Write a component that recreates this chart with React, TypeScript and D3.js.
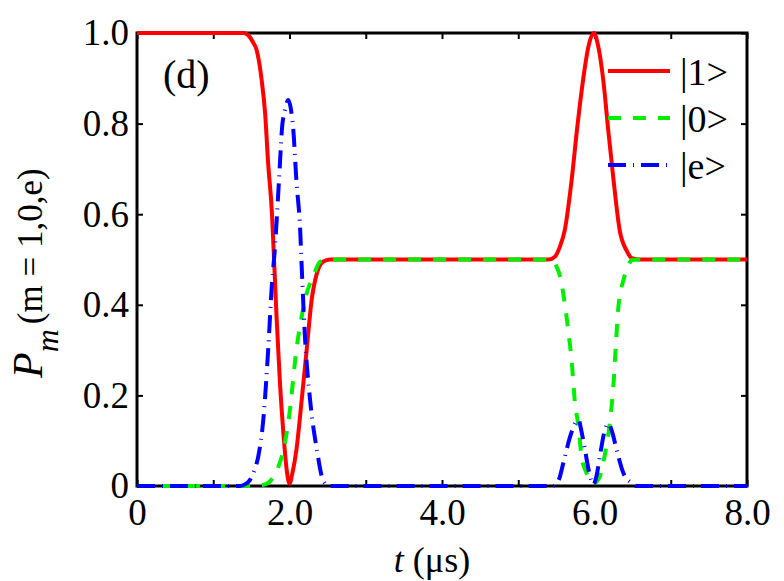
import React, { useEffect, useRef } from "react";
import * as d3 from "d3";

// time axis (µs) and populations for each level
const tOne = [0, 1.4, 1.46, 1.52, 1.57, 1.635, 1.68, 1.72, 1.77, 1.8, 1.83, 1.875, 1.92, 1.96, 2.0, 2.04, 2.09, 2.16, 2.225, 2.29, 2.36, 2.44, 2.53, 3.0, 4.0, 5.0, 5.4, 5.48, 5.55, 5.61, 5.7, 5.77, 5.85, 5.92, 5.99, 6.05, 6.115, 6.18, 6.25, 6.33, 6.42, 6.49, 6.6, 8.0];
const pOne = [1, 1, 0.995, 0.98, 0.962, 0.896, 0.823, 0.712, 0.602, 0.49, 0.374, 0.227, 0.116, 0.04, 0.005, 0.03, 0.079, 0.19, 0.3, 0.41, 0.47, 0.495, 0.5, 0.5, 0.5, 0.5, 0.5, 0.506, 0.53, 0.565, 0.675, 0.786, 0.896, 0.97, 1.0, 0.97, 0.896, 0.786, 0.675, 0.565, 0.52, 0.503, 0.5, 0.5];

const tZero = [0, 1.55, 1.7, 1.79, 1.86, 1.92, 2.0, 2.09, 2.16, 2.225, 2.31, 2.4, 2.5, 5.0, 5.44, 5.5, 5.55, 5.61, 5.66, 5.7, 5.74, 5.79, 5.83, 5.88, 5.92, 5.985, 6.03, 6.07, 6.14, 6.2, 6.25, 6.28, 6.31, 6.38, 6.44, 6.49, 6.6, 8.0];
const pZero = [0, 0, 0.005, 0.02, 0.045, 0.079, 0.16, 0.3, 0.374, 0.425, 0.462, 0.495, 0.5, 0.5, 0.499, 0.485, 0.462, 0.403, 0.337, 0.278, 0.19, 0.131, 0.065, 0.035, 0.021, 0.005, 0.01, 0.021, 0.073, 0.138, 0.227, 0.31, 0.389, 0.455, 0.485, 0.499, 0.5, 0.5];

const tE = [0, 1.35, 1.42, 1.48, 1.54, 1.59, 1.66, 1.72, 1.77, 1.81, 1.85, 1.875, 1.9, 1.94, 1.985, 2.02, 2.05, 2.09, 2.14, 2.16, 2.2, 2.27, 2.36, 2.44, 2.52, 5.0, 5.45, 5.53, 5.59, 5.68, 5.75, 5.79, 5.83, 5.875, 5.93, 5.985, 6.03, 6.07, 6.13, 6.18, 6.23, 6.29, 6.38, 6.49, 6.55, 8.0];
const pE = [0, 0, 0.004, 0.013, 0.035, 0.065, 0.153, 0.3, 0.447, 0.528, 0.639, 0.713, 0.786, 0.83, 0.852, 0.83, 0.786, 0.675, 0.565, 0.484, 0.337, 0.19, 0.079, 0.013, 0, 0, 0, 0.013, 0.05, 0.109, 0.14, 0.146, 0.12, 0.08, 0.03, 0.003, 0.025, 0.065, 0.12, 0.138, 0.12, 0.08, 0.028, 0.006, 0, 0];

const xTicks = [0, 1, 2, 3, 4, 5, 6, 7, 8];
const yTicks = [0, 0.2, 0.4, 0.6, 0.8, 1.0];
const legendLabels = ["|1>", "|0>", "|e>"];

const FONT = "'Liberation Serif', 'Times New Roman', serif";

const PopulationChart = () => {
  const ref = useRef<SVGSVGElement>(null);

  useEffect(() => {
    const totalWidth = 784;
    const totalHeight = 581;
    const margin = { top: 33, right: 37, bottom: 95, left: 137 };
    const w = totalWidth - margin.left - margin.right;
    const h = totalHeight - margin.top - margin.bottom;

    const series = [
      { label: legendLabels[0], t: tOne, p: pOne, color: "#ff0000", dash: null },
      { label: legendLabels[1], t: tZero, p: pZero, color: "#00ee00", dash: "13,12" },
      { label: legendLabels[2], t: tE, p: pE, color: "#0000ff", dash: "18,7,1,7" },
    ];

    const svg = d3.select(ref.current);
    svg.selectAll("*").remove();

    const g = svg.append("g").attr("transform", `translate(${margin.left},${margin.top})`);

    const x = d3.scaleLinear().domain([0, 8]).range([0, w]);
    const y = d3.scaleLinear().domain([0, 1]).range([h, 0]);

    const styleAxis = (sel) => {
      sel.select(".domain").remove();
      sel.attr("font-family", null).attr("font-size", null);
      sel.selectAll("text").attr("fill", "#000").style("font-family", FONT).style("font-size", "37px");
      sel.selectAll("line").attr("stroke", "#000").attr("stroke-width", 2);
    };

    const xFmt = (d) => (d === 0 ? "0" : d % 2 === 0 ? d3.format(".1f")(d) : "");
    const yFmt = (d) => (d === 0 ? "0" : d3.format(".1f")(d));

    // ticks point inward on all four sides
    g.append("g")
      .attr("transform", `translate(0,${h})`)
      .call(d3.axisBottom(x).tickValues(xTicks).tickSize(-6).tickPadding(13).tickFormat(xFmt))
      .call(styleAxis);
    g.append("g")
      .call(d3.axisTop(x).tickValues(xTicks).tickSize(-6).tickFormat(() => ""))
      .call(styleAxis);
    g.append("g")
      .call(d3.axisLeft(y).tickValues(yTicks).tickSize(-6).tickPadding(8).tickFormat(yFmt))
      .call(styleAxis);
    g.append("g")
      .attr("transform", `translate(${w},0)`)
      .call(d3.axisRight(y).tickValues(yTicks).tickSize(-6).tickFormat(() => ""))
      .call(styleAxis);

    // frame
    g.append("rect")
      .attr("width", w)
      .attr("height", h)
      .attr("fill", "none")
      .attr("stroke", "#000")
      .attr("stroke-width", 3);

    const line = d3
      .line()
      .x((d) => x(d[0]))
      .y((d) => y(d[1]))
      .curve(d3.curveMonotoneX);

    series.forEach((s) => {
      g.append("path")
        .datum(d3.zip(s.t, s.p))
        .attr("d", line)
        .attr("fill", "none")
        .attr("stroke", s.color)
        .attr("stroke-width", 4)
        .attr("stroke-dasharray", s.dash)
        .attr("stroke-linejoin", "round");
    });

    // panel tag
    g.append("text")
      .attr("x", 26)
      .attr("y", 55)
      .style("font-family", FONT)
      .style("font-size", "40px")
      .text("(d)");

    // legend
    const legend = g.append("g").attr("transform", `translate(${471},${38})`);
    series.forEach((s, i) => {
      const row = legend.append("g").attr("transform", `translate(0,${i * 47})`);
      row.append("line")
        .attr("x1", 0)
        .attr("x2", 62)
        .attr("stroke", s.color)
        .attr("stroke-width", 4)
        .attr("stroke-dasharray", s.dash);
      row.append("text")
        .attr("x", 72)
        .attr("y", 14)
        .style("font-family", FONT)
        .style("font-size", "38px")
        .text(s.label);
    });

    // axis titles
    const xl = svg.append("text")
      .attr("x", 432)
      .attr("y", 572)
      .attr("text-anchor", "middle")
      .style("font-family", FONT)
      .style("font-size", "36px");
    xl.append("tspan").attr("font-style", "italic").text("t");
    xl.append("tspan").text(" (\u03bcs)");

    const yl = svg.append("text")
      .attr("transform", `translate(42,${378}) rotate(-90)`)
      .attr("text-anchor", "start")
      .style("font-family", FONT)
      .style("font-size", "35px");
    yl.append("tspan").attr("font-style", "italic").style("font-size", "42px").text("P");
    yl.append("tspan").attr("font-style", "italic").style("font-size", "32px").attr("dy", 16).text("m");
    yl.append("tspan").attr("dy", -16).attr("dx", 5).text("(m = 1,0,e)");
  }, []);

  return (
    <svg
      ref={ref}
      width={784}
      height={581}
      style={{ position: "absolute", left: 0, top: 0, background: "#fff" }}
    ></svg>
  );
};

export default function App() {
  return <PopulationChart />;
}
